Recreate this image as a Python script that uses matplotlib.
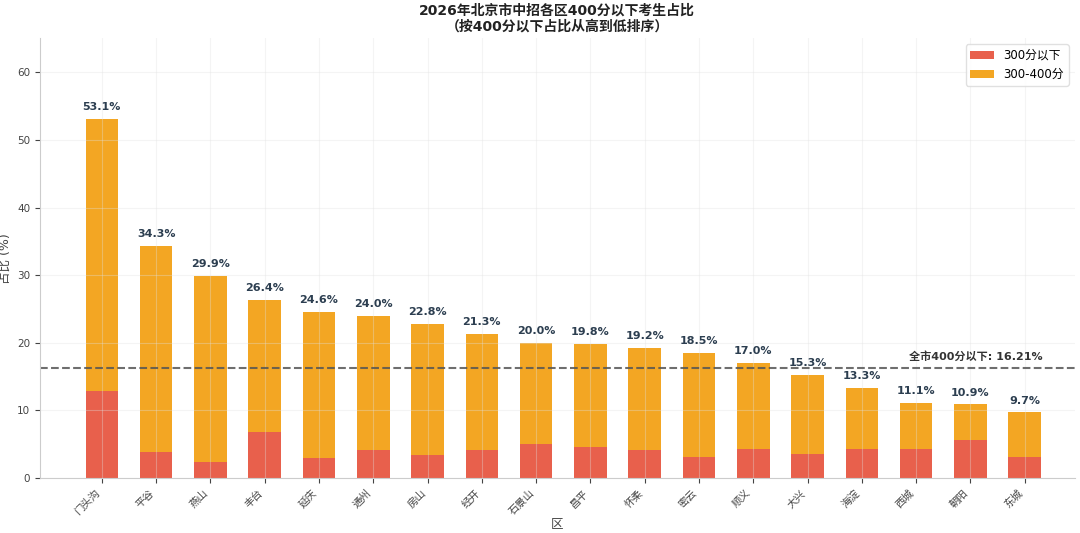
import numpy as np
import matplotlib
matplotlib.use('Agg')
import matplotlib.pyplot as plt

plt.rcParams['font.family'] = ['DejaVu Sans', 'Noto Sans CJK SC']
plt.rcParams['axes.unicode_minus'] = False

# ── Data ─────────────────────────────────────────────────────
districts = ['门头沟', '平谷', '燕山', '丰台', '延庆', '通州', '房山', '经开', '石景山',
             '昌平', '怀柔', '密云', '顺义', '大兴', '海淀', '西城', '朝阳', '东城']
total_400 = [53.1, 34.3, 29.9, 26.4, 24.6, 24.0, 22.8, 21.3, 20.0,
             19.8, 19.2, 18.5, 17.0, 15.3, 13.3, 11.1, 10.9, 9.7]
below_300 = [12.9, 3.8, 2.4, 6.8, 3.0, 4.1, 3.4, 4.1, 5.0,
             4.6, 4.1, 3.1, 4.3, 3.6, 4.3, 4.3, 5.6, 3.1]
city_avg = 16.21

below_300 = np.array(below_300)
total_400 = np.array(total_400)
mid_300_400 = total_400 - below_300

RED = '#E8604C'
ORANGE = '#F3A623'

fig, ax = plt.subplots(figsize=(10.8, 5.33), dpi=100)
fig.subplots_adjust(left=0.037, right=0.995, top=0.928, bottom=0.103)

x = np.arange(len(districts))
ax.bar(x, below_300, 0.6, color=RED, label='300分以下')
ax.bar(x, mid_300_400, 0.6, bottom=below_300, color=ORANGE, label='300-400分')

for xi, val in zip(x, total_400):
    ax.text(xi, val + 1.0, f'{val:.1f}%', ha='center', va='bottom',
            fontsize=8, fontweight='bold', color='#2c3e50')

ax.axhline(city_avg, color='#555555', lw=1.5, ls='--', alpha=0.85)
ax.text(16.1, city_avg + 0.9, f'全市400分以下: {city_avg:.2f}%', ha='center',
        va='bottom', fontsize=8, fontweight='bold', color='#333333')

ax.set_xticks(x)
ax.set_xticklabels(districts, rotation=45, ha='right', fontsize=7.5, color='#444444')
ax.tick_params(axis='y', labelsize=7.5, colors='#444444')
ax.tick_params(axis='x', colors='#444444')
ax.set_xlim(-1.14, 17.92)
ax.set_ylim(0, 65)
ax.set_yticks(np.arange(0, 61, 10))
ax.set_xlabel('区', fontsize=9, color='#444444', labelpad=1)
ax.set_ylabel('占比 (%)', fontsize=9, color='#444444')
ax.set_title('2026年北京市中招各区400分以下考生占比\n（按400分以下占比从高到低排序）',
             fontsize=10, fontweight='bold', color='#222222', linespacing=1.1)

ax.grid(True, alpha=0.35, color='#e0e0e0')
for s in ['top', 'right']:
    ax.spines[s].set_visible(False)
for s in ['left', 'bottom']:
    ax.spines[s].set_color('#cccccc')

ax.legend(loc='upper right', fontsize=8.5, framealpha=0.9, edgecolor='#dddddd')

plt.savefig('out.png', dpi=100)
